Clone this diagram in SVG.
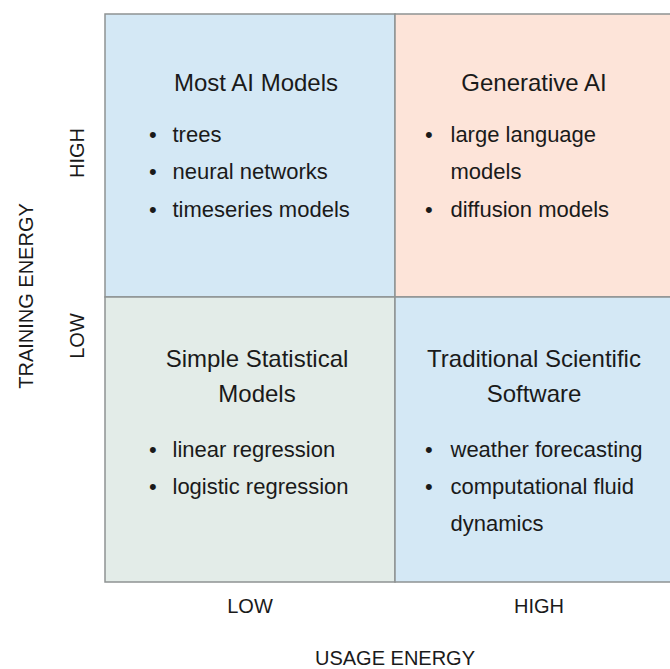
<svg xmlns="http://www.w3.org/2000/svg" width="670" height="669" viewBox="0 0 670 669">
  <style>
    .cell { stroke: #8e9393; stroke-width: 1.5; }
    .blue { fill: #d4e8f5; }
    .peach { fill: #fde4d9; }
    .sage { fill: #e3ece8; }
    text { font-family: "Liberation Sans", Arial, sans-serif; fill: #1a1a1a; }
    .head { font-size: 24px; text-anchor: middle; }
    .item { font-size: 22px; }
    .axis { font-size: 20px; text-anchor: middle; }
  </style>
  <rect width="670" height="669" fill="#ffffff"/>

  <g id="most-ai-models">
    <rect class="cell blue" x="105" y="14" width="290" height="283"/>
    <text class="head" x="256" y="91">Most AI Models</text>
    <text class="item" x="149" y="142">•</text>
    <text class="item" x="172.5" y="142">trees</text>
    <text class="item" x="149" y="179">•</text>
    <text class="item" x="172.5" y="179">neural networks</text>
    <text class="item" x="149" y="217">•</text>
    <text class="item" x="172.5" y="217">timeseries models</text>
  </g>

  <g id="generative-ai">
    <rect class="cell peach" x="395" y="14" width="285" height="283"/>
    <text class="head" x="534" y="91">Generative AI</text>
    <text class="item" x="425" y="142">•</text>
    <text class="item" x="450.5" y="142">large language</text>
    <text class="item" x="450.5" y="179">models</text>
    <text class="item" x="425" y="217">•</text>
    <text class="item" x="450.5" y="217">diffusion models</text>
  </g>

  <g id="simple-statistical-models">
    <rect class="cell sage" x="105" y="297" width="290" height="285"/>
    <text class="head" x="257" y="367">Simple Statistical</text>
    <text class="head" x="257" y="402">Models</text>
    <text class="item" x="149" y="457">•</text>
    <text class="item" x="172.5" y="457">linear regression</text>
    <text class="item" x="149" y="494">•</text>
    <text class="item" x="172.5" y="494">logistic regression</text>
  </g>

  <g id="traditional-scientific-software">
    <rect class="cell blue" x="395" y="297" width="285" height="285"/>
    <text class="head" x="534" y="367">Traditional Scientific</text>
    <text class="head" x="534" y="402">Software</text>
    <text class="item" x="425" y="457">•</text>
    <text class="item" x="450.5" y="457">weather forecasting</text>
    <text class="item" x="425" y="494">•</text>
    <text class="item" x="450.5" y="494">computational fluid</text>
    <text class="item" x="450.5" y="531">dynamics</text>
  </g>

  <g id="connectors"></g>

  <g id="axes">
    <text class="axis" transform="translate(33,296) rotate(-90)">TRAINING ENERGY</text>
    <text class="axis" transform="translate(84,153) rotate(-90)">HIGH</text>
    <text class="axis" transform="translate(84,336) rotate(-90)">LOW</text>
    <text class="axis" x="250" y="613">LOW</text>
    <text class="axis" x="539" y="613">HIGH</text>
    <text class="axis" x="395" y="665">USAGE ENERGY</text>
  </g>
</svg>
